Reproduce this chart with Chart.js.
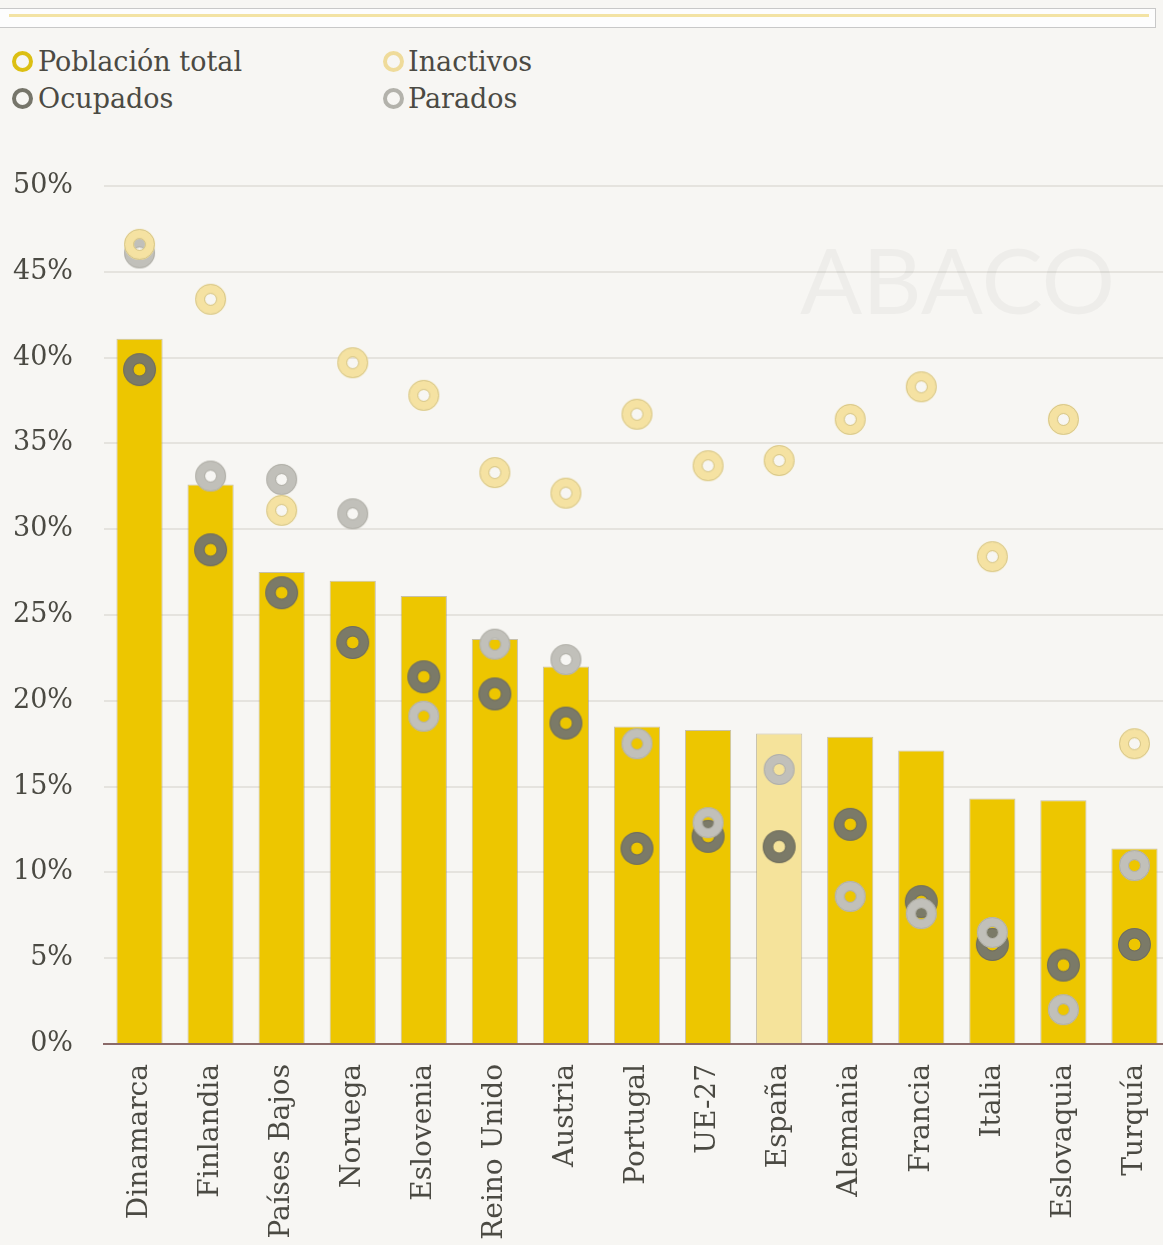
<!DOCTYPE html>
<html>
<head>
<meta charset="utf-8">
<script src="https://cdn.jsdelivr.net/npm/chart.js@4.4.1/dist/chart.umd.min.js"></script>
<style>
  html, body { margin: 0; padding: 0; background: #f7f6f3; overflow: hidden; width: 1163px; height: 1245px; }
  #topbox { position: absolute; left: -1px; top: 8px; width: 1157px; height: 20px; background: #fdfdfd; border: 1px solid #c8c8c8; box-sizing: border-box; }
  #topbox .line { position: absolute; left: 9px; right: 6px; top: 5px; height: 3px; background: #f3e3a4; }
  #legend { position: absolute; left: 0; top: 43px; font-family: "DejaVu Serif", serif; font-size: 27px; color: #4b4a43; }
  .item { position: absolute; white-space: nowrap; height: 37px; line-height: 37px; }
  .mk { position: absolute; top: 8px; width: 21px; height: 21px; border-radius: 50%; box-sizing: border-box; border: 4px solid #000; }
  .lbl { position: absolute; }
  #wrap { position: absolute; left: 0; top: 0; width: 1190px; height: 1245px; }
</style>
</head>
<body>
<div id="topbox"><div class="line"></div></div>
<div id="legend">
  <div class="item" style="left:0;top:0"><span class="mk" style="left:12px;border-color:#dcbf12"></span><span class="lbl" style="left:38px">Población total</span></div>
  <div class="item" style="left:0;top:37px"><span class="mk" style="left:12px;border-color:#76756a"></span><span class="lbl" style="left:38px">Ocupados</span></div>
  <div class="item" style="left:0;top:0"><span class="mk" style="left:383px;border-color:#efdb9a"></span><span class="lbl" style="left:408px">Inactivos</span></div>
  <div class="item" style="left:0;top:37px"><span class="mk" style="left:383px;border-color:#b3b2ab"></span><span class="lbl" style="left:408px">Parados</span></div>
</div>
<div id="wrap"><canvas id="c" width="1190" height="1245"></canvas></div>
<script>
const categories = ["Dinamarca","Finlandia","Países Bajos","Noruega","Eslovenia","Reino Unido","Austria","Portugal","UE-27","España","Alemania","Francia","Italia","Eslovaquia","Turquía"];
const poblacionTotal = [41.1, 32.6, 27.5, 27.0, 26.1, 23.6, 22.0, 18.5, 18.3, 18.1, 17.9, 17.1, 14.3, 14.2, 11.4];
const ocupados       = [39.3, 28.8, 26.3, 23.4, 21.4, 20.4, 18.7, 11.4, 12.1, 11.5, 12.8, 8.3, 5.8, 4.6, 5.8];
const inactivos      = [46.6, 43.4, 31.1, 39.7, 37.8, 33.3, 32.1, 36.7, 33.7, 34.0, 36.4, 38.3, 28.4, 36.4, 17.5];
const parados        = [46.1, 33.1, 32.9, 30.9, 19.1, 23.3, 22.4, 17.5, 12.9, 16.0, 8.6, 7.6, 6.5, 2.0, 10.4];
const yTicks = [0, 5, 10, 15, 20, 25, 30, 35, 40, 45, 50];
const highlight = "España";

function ring(color, edge, rOut, rIn) {
  const s = Math.ceil(rOut * 2 + 2);
  const cv = document.createElement('canvas');
  cv.width = s; cv.height = s;
  const g = cv.getContext('2d');
  const c = s / 2;
  g.beginPath();
  g.arc(c, c, rOut, 0, Math.PI * 2);
  g.arc(c, c, rIn, 0, Math.PI * 2, true);
  g.fillStyle = color;
  g.fill('evenodd');
  if (edge) {
    g.lineWidth = 1;
    g.strokeStyle = edge;
    g.beginPath(); g.arc(c, c, rOut - 0.5, 0, Math.PI * 2); g.stroke();
    g.beginPath(); g.arc(c, c, rIn + 0.5, 0, Math.PI * 2); g.stroke();
  }
  return cv;
}
const ringOcup = ring('#7b7a68', 'rgba(100,98,80,0.5)', 16.5, 6);
const ringPar = ring('#c1c0ba', 'rgba(170,168,160,0.7)', 15.5, 5.5);
const ringInac = ring('#f5e2a2', 'rgba(205,190,130,0.8)', 15.5, 5.5);

const watermark = {
  id: 'watermark',
  beforeDatasetsDraw(chart) {
    const ctx = chart.ctx;
    ctx.save();
    ctx.font = '400 92px Lato, "DejaVu Sans", sans-serif';
    ctx.fillStyle = 'rgba(0,0,0,0.035)';
    ctx.textBaseline = 'alphabetic';
    ctx.textAlign = 'left';
    ctx.fillText('ABACO', 800, 314);
    ctx.restore();
  }
};

new Chart(document.getElementById('c'), {
  type: 'bar',
  data: {
    labels: categories,
    datasets: [
      {
        type: 'bar', label: 'Población total', data: poblacionTotal, order: 4,
        backgroundColor: categories.map(c => c === highlight ? '#f5e39b' : '#edc600'),
        borderColor: 'rgba(160,148,110,0.55)', borderWidth: 1,
        categoryPercentage: 1, barPercentage: 0.65
      },
      { type: 'line', label: 'Ocupados', data: ocupados, order: 3, showLine: false, pointStyle: ringOcup },
      { type: 'line', label: 'Parados', data: parados, order: 2, showLine: false, pointStyle: ringPar },
      { type: 'line', label: 'Inactivos', data: inactivos, order: 1, showLine: false, pointStyle: ringInac }
    ]
  },
  options: {
    responsive: false,
    animation: false,
    devicePixelRatio: 1,
    layout: { padding: { top: 186, left: 0, right: 20, bottom: 0 } },
    plugins: { legend: { display: false }, tooltip: { enabled: false } },
    scales: {
      x: {
        offset: true,
        grid: { display: false, drawTicks: false },
        border: { display: true, color: '#8a6a68', width: 2 },
        ticks: {
          autoSkip: false, minRotation: 90, maxRotation: 90, padding: 20,
          color: '#4b4a43', font: { family: '"DejaVu Serif", serif', size: 28 }
        },
        afterFit(s) { s.height = 201; }
      },
      y: {
        min: 0, max: 50,
        afterBuildTicks(s) { s.ticks = yTicks.map(v => ({ value: v })); },
        grid: { color: '#e5e3de', lineWidth: 2, drawTicks: false },
        border: { display: false },
        ticks: {
          padding: 31, color: '#4b4a43',
          font: { family: '"DejaVu Serif", serif', size: 27 },
          callback: v => v + '%'
        },
        afterFit(s) { s.width = 104; }
      }
    }
  },
  plugins: [watermark]
});
</script>
</body>
</html>
